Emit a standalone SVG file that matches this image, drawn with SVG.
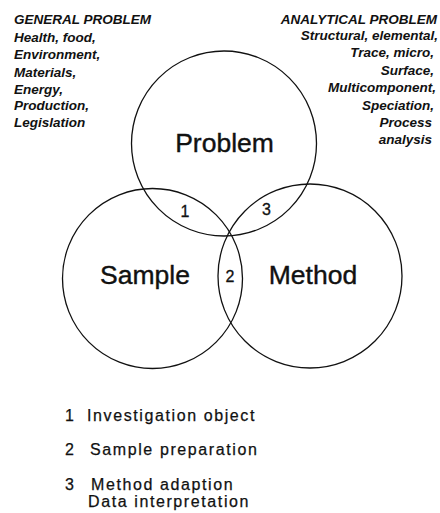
<svg xmlns="http://www.w3.org/2000/svg" width="440" height="513" viewBox="0 0 440 513">
<style>
.c{fill:none;stroke:#111;stroke-width:1.3}
.h{font-family:"Liberation Sans",Arial,sans-serif;font-size:13.5px;font-weight:bold;font-style:italic;fill:#111}
.r{text-anchor:end}
.big{font-family:"Liberation Sans",Arial,sans-serif;font-size:26.5px;fill:#111;stroke:#111;stroke-width:0.4;text-anchor:middle}
.num{font-family:"Liberation Sans",Arial,sans-serif;font-size:16px;fill:#111;stroke:#111;stroke-width:0.3;text-anchor:middle}
.leg{font-family:"Liberation Sans",Arial,sans-serif;font-size:16px;fill:#111;stroke:#111;stroke-width:0.25;letter-spacing:1.6px}
</style>
<rect width="440" height="513" fill="#fff"/>
<g id="general-problem">
<text class="h" x="14" y="24">GENERAL PROBLEM</text>
<text class="h" x="14" y="42">Health, food,</text>
<text class="h" x="14" y="59">Environment,</text>
<text class="h" x="14" y="77">Materials,</text>
<text class="h" x="14" y="94">Energy,</text>
<text class="h" x="14" y="110">Production,</text>
<text class="h" x="14" y="127">Legislation</text>
</g>
<g id="analytical-problem">
<text class="h r" x="437" y="24">ANALYTICAL PROBLEM</text>
<text class="h r" x="438" y="40">Structural, elemental,</text>
<text class="h r" x="434" y="57">Trace, micro,</text>
<text class="h r" x="434" y="75">Surface,</text>
<text class="h r" x="436" y="92">Multicomponent,</text>
<text class="h r" x="434" y="110">Speciation,</text>
<text class="h r" x="432" y="127">Process</text>
<text class="h r" x="432" y="144">analysis</text>
</g>
<g id="problem">
<circle class="c" cx="224" cy="143.5" r="92.5"/>
<text class="big" x="224.5" y="152">Problem</text>
</g>
<g id="sample">
<circle class="c" cx="152.5" cy="278.5" r="90"/>
<text class="big" x="145" y="284">Sample</text>
</g>
<g id="method">
<circle class="c" cx="310" cy="276" r="92"/>
<text class="big" x="313" y="284">Method</text>
</g>
<g id="intersections">
<text class="num" x="185" y="217">1</text>
<text class="num" x="230" y="282">2</text>
<text class="num" x="266.5" y="215">3</text>
</g>
<g id="legend">
<text class="leg" x="65" y="421">1</text>
<text class="leg" x="87" y="421">Investigation object</text>
<text class="leg" x="65" y="455">2</text>
<text class="leg" x="90" y="455">Sample preparation</text>
<text class="leg" x="65" y="490">3</text>
<text class="leg" x="91" y="490">Method adaption</text>
<text class="leg" x="88" y="507">Data interpretation</text>
</g>
</svg>
